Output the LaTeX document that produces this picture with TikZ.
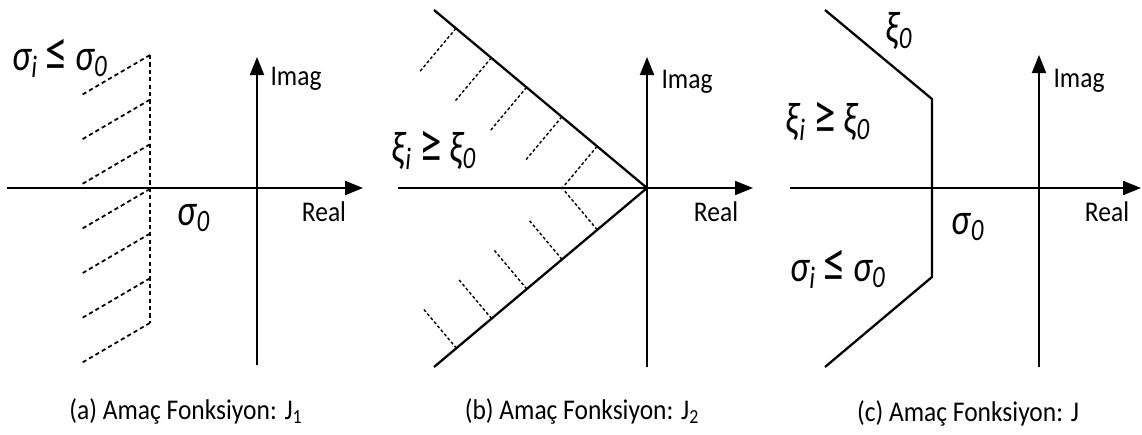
\documentclass[tikz,border=0pt]{standalone}
\usepackage{fontspec}
\setmainfont{Carlito}
\usetikzlibrary{arrows.meta,calc}

\newcommand{\rel}[1]{\hspace{0.22em}{\fontsize{28}{28}\selectfont\upshape #1}\hspace{0.2em}}
\newcommand{\tallt}[1]{\scalebox{0.92}[1.15]{#1}}
\newcommand{\talls}[1]{\scalebox{1}[1.12]{#1}}

\tikzset{
  axis/.style={line width=1.1pt,-{Triangle[length=3.6mm,width=2.8mm]}},
  bound/.style={line width=1.3pt},
  hatch/.style={line width=1pt,dash pattern=on 2.4pt off 1.8pt},
  fhatch/.style={line width=0.8pt,dash pattern=on 1.7pt off 1.3pt},
  cond/.style={font=\fontsize{22}{24}\selectfont\itshape,inner sep=0pt},
  axlbl/.style={font=\fontsize{14.5}{16}\selectfont,inner sep=0pt},
  capt/.style={font=\fontsize{14.5}{16}\selectfont,inner sep=0pt}
}

\begin{document}
\begin{tikzpicture}[>=Stealth]
\useasboundingbox (0,0) rectangle (22.84,8.68);
% (a) sigma bound
\coordinate (oa) at (5.14,4.92);
\draw[axis] (0.14,4.92) -- (7.26,4.92);
\draw[axis] (5.14,1.38) -- (5.14,7.54);
\draw[hatch] (3.0,7.58) -- (3.0,2.22);
\foreach \k in {0,...,6}
  \draw[hatch] (3.0,{7.58-0.893*\k}) -- ++(-1.4,-0.82);
\node[cond] (a-cond) at (1.2,7.52) {\tallt{σ\textsubscript{i}\rel{≤}σ\textsubscript{0}}};
\node[cond] (a-sig) at (3.88,4.32) {\tallt{σ\textsubscript{0}}};
\node[axlbl] (a-im) at (5.92,7.1) {\talls{Imag}};
\node[axlbl] (a-re) at (6.48,4.44) {\talls{Real}};
\node[capt] (a-cap) at (3.72,0.46) {\talls{(a) Amaç Fonksiyon: J\textsubscript{1}}};
% (b) damping bound
\coordinate (ob) at (12.94,4.92);
\coordinate (bu) at (8.68,8.48);
\coordinate (bl) at (8.68,1.34);
\draw[axis] (7.96,4.92) -- (15.06,4.92);
\draw[axis] (12.94,1.34) -- (12.94,7.54);
\draw[bound] (bu) -- (ob) -- (bl);
\foreach \d in {1.3,2.22,3.14,4.06,4.98}{
  \draw[fhatch] ($(ob)!\d cm!(bu)$) -- ($($(ob)!\d cm!(bu)$)!1.15cm!-90:(ob)$);
  \draw[fhatch] ($(ob)!\d cm!(bl)$) -- ($($(ob)!\d cm!(bl)$)!1.05cm!90:(ob)$);
}
\node[cond] (b-cond) at (8.68,5.68) {\tallt{ξ\textsubscript{i}\rel{≥}ξ\textsubscript{0}}};
\node[axlbl] (b-im) at (13.74,7.04) {\talls{Imag}};
\node[axlbl] (b-re) at (14.32,4.44) {\talls{Real}};
\node[capt] (b-cap) at (11.64,0.46) {\talls{(b) Amaç Fonksiyon: J\textsubscript{2}}};
% (c) combined
\draw[axis] (15.8,4.92) -- (22.82,4.92);
\draw[axis] (20.78,1.34) -- (20.78,7.58);
\draw[bound] (16.5,8.48) -- (18.64,6.7) -- (18.64,3.14) -- (16.5,1.34);
\node[cond] (c-xi) at (17.98,8.06) {\tallt{ξ\textsubscript{0}}};
\node[cond] (c-cond1) at (16.56,6.26) {\tallt{ξ\textsubscript{i}\rel{≥}ξ\textsubscript{0}}};
\node[cond] (c-sig) at (19.36,4.14) {\tallt{σ\textsubscript{0}}};
\node[cond] (c-cond2) at (16.76,3.3) {\tallt{σ\textsubscript{i}\rel{≤}σ\textsubscript{0}}};
\node[axlbl] (c-im) at (21.58,7.06) {\talls{Imag}};
\node[axlbl] (c-re) at (22.14,4.44) {\talls{Real}};
\node[capt] (c-cap) at (19.36,0.42) {\talls{(c) Amaç Fonksiyon: J}};
\end{tikzpicture}
\end{document}
